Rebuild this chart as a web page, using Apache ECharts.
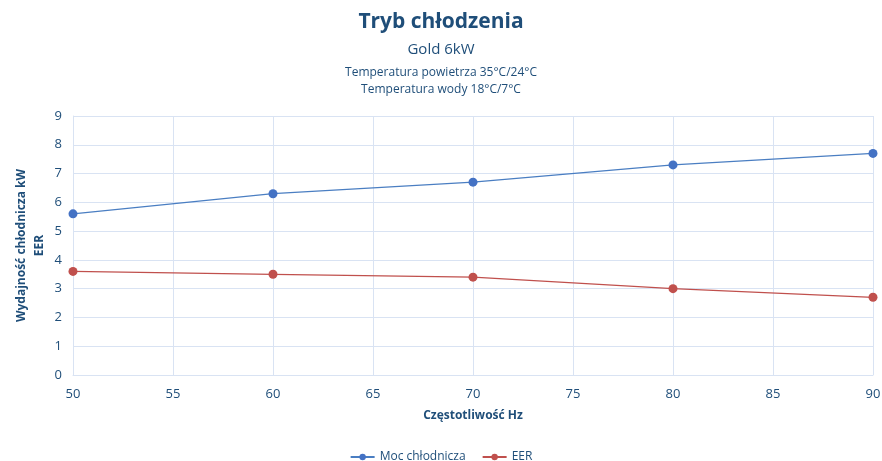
<!DOCTYPE html>
<html>
<head>
<meta charset="utf-8">
<script src="https://cdn.jsdelivr.net/npm/echarts@6/dist/echarts.min.js"></script>
<style>
  html, body { margin: 0; padding: 0; background: #fff; }
  #chart { width: 882px; height: 461px; }
</style>
</head>
<body>
<div id="chart"></div>
<script>
"use strict";

// dane
const freqHz   = [50, 60, 70, 80, 90];
const mocChl   = [5.6, 6.3, 6.7, 7.3, 7.7];
const eer      = [3.6, 3.5, 3.4, 3.0, 2.7];
const seriesNames = ["Moc chłodnicza", "EER"];

const FONT = "'Open Sans', 'Noto Sans', sans-serif";
const TXT  = "#1F4E79";
const GRID = "#D9E3F3";

const chart = echarts.init(document.getElementById("chart"));

chart.setOption({
  backgroundColor: "#fff",
  animation: false,
  textStyle: { fontFamily: FONT },
  title: [
    { text: "Tryb chłodzenia", left: "center", top: 7,
      textStyle: { fontSize: 21, fontWeight: "bold", color: TXT, fontFamily: FONT } },
    { text: "Gold 6kW", left: "center", top: 37,
      textStyle: { fontSize: 15, fontWeight: "normal", color: TXT, fontFamily: FONT } },
    { text: "Temperatura powietrza 35°C/24°C", left: "center", top: 62,
      textStyle: { fontSize: 12, fontWeight: "normal", color: TXT, fontFamily: FONT } },
    { text: "Temperatura wody 18°C/7°C", left: "center", top: 79,
      textStyle: { fontSize: 12, fontWeight: "normal", color: TXT, fontFamily: FONT } }
  ],
  legend: {
    data: seriesNames, top: 446, left: "center",
    itemWidth: 24, itemHeight: 8, itemGap: 16,
    textStyle: { fontSize: 12, color: TXT, fontFamily: FONT }
  },
  grid: { left: 73, right: 9, top: 116, bottom: 86, outerBoundsMode: "none" },
  xAxis: {
    type: "value", min: 50, max: 90, interval: 5,
    name: "Częstotliwość Hz", nameLocation: "middle", nameGap: 35,
    nameTextStyle: { fontSize: 12, fontWeight: "bold", color: TXT, fontFamily: FONT },
    axisLine: { lineStyle: { color: GRID } },
    axisTick: { show: false },
    axisLabel: { fontSize: 13, color: TXT, margin: 13 },
    splitLine: { show: true, lineStyle: { color: GRID } }
  },
  yAxis: {
    type: "value", min: 0, max: 9, interval: 1,
    name: "Wydajność chłodnicza kW\nEER", nameLocation: "middle", nameGap: 24,
    nameMoveOverlap: false,
    nameTextStyle: { fontSize: 12, fontWeight: "bold", color: TXT, fontFamily: FONT, lineHeight: 18 },
    axisLine: { show: true, lineStyle: { color: GRID } },
    axisTick: { show: false },
    axisLabel: { fontSize: 13, color: TXT, margin: 11 },
    splitLine: { show: true, lineStyle: { color: GRID } }
  },
  series: [
    {
      name: seriesNames[0], type: "line",
      data: freqHz.map((f, i) => [f, mocChl[i]]),
      symbol: "circle", symbolSize: 9,
      lineStyle: { color: "#4A7EC2", width: 1.2 },
      itemStyle: { color: "#4472C4" }
    },
    {
      name: seriesNames[1], type: "line",
      data: freqHz.map((f, i) => [f, eer[i]]),
      symbol: "circle", symbolSize: 9,
      lineStyle: { color: "#C0504D", width: 1.2 },
      itemStyle: { color: "#C0504D" }
    }
  ]
});
</script>
</body>
</html>
